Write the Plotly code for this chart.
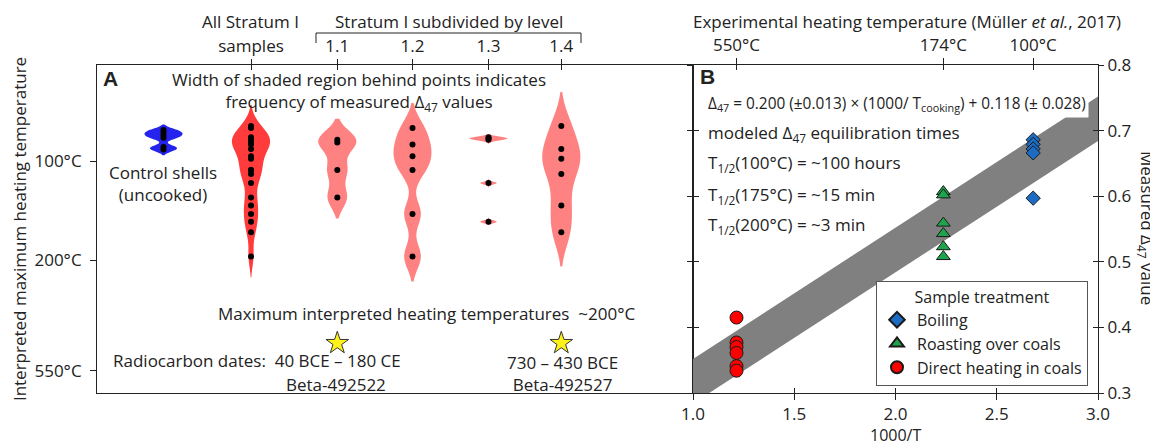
import plotly.graph_objects as go

# ---------------- data ----------------
# Panel A: measured Δ47 values of each sample group
group_names = ["Control shells", "All Stratum I", "1.1", "1.2", "1.3", "1.4"]
control_d47 = [0.701, 0.697, 0.693, 0.689, 0.675, 0.671]
level_11_d47 = [0.686, 0.682, 0.640, 0.598]
level_12_d47 = [0.704, 0.679, 0.661, 0.640, 0.573, 0.508]
level_13_d47 = [0.690, 0.688, 0.686, 0.620, 0.561]
level_14_d47 = [0.707, 0.672, 0.657, 0.634, 0.586, 0.545]
all_stratum_d47 = level_11_d47 + level_12_d47 + level_13_d47 + level_14_d47
group_values = [control_d47, all_stratum_d47, level_11_d47, level_12_d47,
                level_13_d47, level_14_d47]

temp_tick_d47 = [0.653, 0.502, 0.334]
temp_tick_labels = ["100°C", "200°C", "550°C"]
top_tick_groups = ["All Stratum I", "1.1", "1.2", "1.3", "1.4"]
top_tick_labels = ["samples", "1.1", "1.2", "1.3", "1.4"]
radiocarbon_groups = ["1.1", "1.4"]

# Panel B: experimental heating (Müller et al., 2017)
treatments = ["Boiling", "Roasting over coals", "Direct heating in coals"]
treatment_temp_c = [100, 174, 550]
boiling_d47 = [0.686, 0.679, 0.672, 0.666, 0.597]
roasting_d47 = [0.607, 0.602, 0.559, 0.543, 0.523, 0.508]
direct_d47 = [0.415, 0.377, 0.370, 0.361, 0.341, 0.334]
treatment_values = [boiling_d47, roasting_d47, direct_d47]

fit_slope = 0.200
fit_intercept = 0.118
band_half_width = 0.034

bottom_ticks = [1.0, 1.5, 2.0, 2.5, 3.0]
right_ticks = [0.3, 0.4, 0.5, 0.6, 0.7, 0.8]
top_temp_c = [550, 174, 100]
top_temp_labels = ["550°C", "174°C", "100°C"]

# ---------------- layout constants ----------------
W, H = 1158, 445            # window size
PAGE_OFF = 8                # default body margin of the html page
L, R, T, B = 97, 60, 65, 52  # plot-area edges in window pixels
PW, PH = W - L - R, H - T - B
A_RIGHT = 693
SPLIT = (A_RIGHT - L) / PW
A_RANGE = [0, A_RIGHT - L]
GROUP_X = {"Control shells": 66.5, "All Stratum I": 154, "1.1": 240.3,
           "1.2": 315.5, "1.3": 391.5, "1.4": 464.3}
VIOLIN_STYLE = {
    "Control shells": ("#2424EE", 0.0042),
    "All Stratum I": ("#FF3B3B", 0.016),
    "1.1": ("#FF8282", 0.016),
    "1.2": ("#FF8282", 0.019),
    "1.3": ("#FF8282", 0.0022),
    "1.4": ("#FF8282", 0.026),
}
VIOLIN_WIDTH = 38
STAR_Y = 0.376
FONT = "'Open Sans', Lato, sans-serif"
BOLD = "'Liberation Sans', Arial, sans-serif"
INK = "#222222"
FS = 17
MARKERS = {
    "Boiling": dict(symbol="diamond", size=11, color="#1C6CC4"),
    "Roasting over coals": dict(symbol="triangle-up", size=12, color="#1EA54B"),
    "Direct heating in coals": dict(symbol="circle", size=13, color="#FF0000"),
}


def px_x(px):
    return (px - L) / PW


def px_y(py):
    return (H - B - py) / PH


fig = go.Figure()

# ---------------- panel A: violins ----------------
for name, vals in zip(group_names, group_values):
    fill, bw = VIOLIN_STYLE[name]
    fig.add_trace(go.Violin(
        x=[GROUP_X[name]] * len(vals), y=vals, xaxis="x", yaxis="y",
        orientation="v", width=VIOLIN_WIDTH, scalemode="width",
        bandwidth=bw, spanmode="soft", fillcolor=fill,
        line=dict(color=fill, width=0), points="all", pointpos=0,
        jitter=0, marker=dict(color="black", size=6, line=dict(width=0)),
        box_visible=False, meanline_visible=False, showlegend=False,
        hoveron="points", name=name))

fig.add_trace(go.Scatter(
    x=[GROUP_X[g] for g in radiocarbon_groups],
    y=[STAR_Y] * len(radiocarbon_groups), xaxis="x", yaxis="y",
    mode="markers", showlegend=False, cliponaxis=False,
    marker=dict(symbol="star", size=17, color="#FFF21A",
                line=dict(color="#333", width=1))))

# ---------------- panel B ----------------
x_lo, x_hi = bottom_ticks[0], bottom_ticks[-1]
c_lo = fit_slope * x_lo + fit_intercept
c_hi = fit_slope * x_hi + fit_intercept
fig.add_trace(go.Scatter(
    x=[x_lo, x_hi, x_hi, x_lo, x_lo],
    y=[c_lo + band_half_width, c_hi + band_half_width,
       c_hi - band_half_width, c_lo - band_half_width,
       c_lo + band_half_width],
    xaxis="x2", yaxis="y2", mode="lines", fill="toself",
    fillcolor="#808080", line=dict(width=0), showlegend=False,
    hoverinfo="skip"))

for name, tc, vals in zip(treatments, treatment_temp_c, treatment_values):
    inv_t = 1000.0 / (tc + 273.15)
    m = MARKERS[name]
    fig.add_trace(go.Scatter(
        x=[inv_t] * len(vals), y=vals, xaxis="x2", yaxis="y2",
        mode="markers", name=name, cliponaxis=False,
        marker=dict(symbol=m["symbol"], size=m["size"], color=m["color"],
                    line=dict(color="#1a1a1a", width=1))))

# dummy traces to attach the overlay axes (crossing ticks)
for xa, ya in [("x3", "y2"), ("x4", "y2"), ("x5", "y2"), ("x2", "y3"),
               ("x2", "y4"), ("x2", "y5"), ("x6", "y")]:
    fig.add_trace(go.Scatter(x=[None], y=[None], xaxis=xa, yaxis=ya,
                             showlegend=False, hoverinfo="skip"))

axis_common = dict(showgrid=False, zeroline=False, linecolor=INK,
                   tickcolor=INK, linewidth=1, tickwidth=1, automargin=False,
                   tickfont=dict(family=FONT, size=FS, color=INK))

inv_top = [1000.0 / (t + 273.15) for t in top_temp_c]

layout_axes = dict(
    xaxis=dict(domain=[0, SPLIT], range=A_RANGE, side="top", anchor="y",
               tickvals=[GROUP_X[g] for g in top_tick_groups],
               ticktext=top_tick_labels, ticks="outside", ticklen=5,
               showline=True, mirror=True, **axis_common),
    xaxis6=dict(domain=[0, SPLIT], range=A_RANGE, side="top", anchor="y",
                overlaying="x", tickvals=[GROUP_X[g] for g in top_tick_groups],
                showticklabels=False, ticks="inside", ticklen=5,
                showline=False, **axis_common),
    yaxis=dict(domain=[0, 1], range=[0.3, 0.8], anchor="x",
               tickvals=temp_tick_d47, ticktext=temp_tick_labels,
               ticks="outside", ticklen=6, showline=True, mirror=True,
               ticklabelstandoff=5,
               title=dict(text="Interpreted maximum heating temperature",
                          font=dict(family=FONT, size=FS, color=INK),
                          standoff=10),
               **axis_common),
    xaxis2=dict(domain=[SPLIT, 1], range=[x_lo, x_hi], anchor="y2",
                tickvals=bottom_ticks,
                ticktext=[f"{v:.1f}" for v in bottom_ticks],
                ticks="outside", ticklen=6, showline=True,
                **axis_common),
    xaxis4=dict(domain=[SPLIT, 1], range=[x_lo, x_hi], anchor="y2",
                overlaying="x2", tickvals=bottom_ticks, showticklabels=False,
                ticks="inside", ticklen=5, showline=False, **axis_common),
    xaxis3=dict(domain=[SPLIT, 1], range=[x_lo, x_hi], anchor="y2",
                overlaying="x2", side="top", tickvals=inv_top,
                ticktext=top_temp_labels, ticks="outside", ticklen=6,
                showline=True, **axis_common),
    xaxis5=dict(domain=[SPLIT, 1], range=[x_lo, x_hi], anchor="y2",
                overlaying="x2", side="top", tickvals=inv_top,
                showticklabels=False, ticks="inside", ticklen=5,
                showline=False, **axis_common),
    yaxis2=dict(domain=[0, 1], range=[0.3, 0.8], anchor="x2", side="right",
                tickvals=right_ticks,
                ticktext=[f"{v:.1f}" for v in right_ticks],
                ticks="outside", ticklen=5, showline=True, **axis_common),
    yaxis4=dict(domain=[0, 1], range=[0.3, 0.8], anchor="x2", side="right",
                overlaying="y2", tickvals=right_ticks, showticklabels=False,
                ticks="inside", ticklen=5, showline=False, **axis_common),
    yaxis3=dict(domain=[0, 1], range=[0.3, 0.8], anchor="x2", side="left",
                overlaying="y2", tickvals=right_ticks, showticklabels=False,
                ticks="outside", ticklen=5, showline=True, **axis_common),
    yaxis5=dict(domain=[0, 1], range=[0.3, 0.8], anchor="x2", side="left",
                overlaying="y2", tickvals=right_ticks, showticklabels=False,
                ticks="inside", ticklen=6, showline=False, **axis_common),
)


def ann(text, x, y, size=FS, xanchor="center", family=FONT, **kw):
    d = dict(text=text, x=px_x(x), y=px_y(y), xref="paper", yref="paper",
             xanchor=xanchor, yanchor="middle", showarrow=False,
             font=dict(family=family, size=size, color=INK))
    d.update(kw)
    return d


annotations = [
    ann("<b>A</b>", 101, 78, size=21, xanchor="left", family=BOLD),
    ann("Width of shaded region behind points indicates<br>"
        "frequency of measured Δ<sub>47</sub> values", 359, 92),
    ann("Control shells<br>(uncooked)", 163, 183),
    ann("Maximum interpreted heating temperatures \u00a0~200°C", 426, 313),
    ann("Radiocarbon dates: \u00a040 BCE – 180 CE", 111, 360, xanchor="left"),
    ann("Beta-492522", 336, 384),
    ann("730 – 430 BCE<br>Beta-492527", 562, 373),
    ann("All Stratum I", 250, 21),
    ann("Stratum I subdivided by level", 449, 21),
    ann("<b>B</b>", 698, 76, size=21, xanchor="left", family=BOLD),
    ann("Δ<sub>47</sub> = 0.200 (±0.013) × (1000/ T<sub>cooking</sub>)"
        " + 0.118 (± 0.028)", 705, 104, size=15.4, xanchor="left",
        bgcolor="white", borderpad=2),
    ann("modeled Δ<sub>47</sub> equilibration times", 706, 134,
        xanchor="left"),
    ann("T<sub>1/2</sub>(100°C) = ~100 hours", 706, 163, xanchor="left"),
    ann("T<sub>1/2</sub>(175°C) = ~15 min", 706, 195, xanchor="left"),
    ann("T<sub>1/2</sub>(200°C) = ~3 min", 706, 225, xanchor="left"),
    ann("Experimental heating temperature (Müller <i>et al.</i>, 2017)",
        907, 21),
    ann("Measured Δ<sub>47</sub> value", 1147, 228, textangle=90),
    ann("1000/T", 895, 435, size=16),
]

shapes = [
    dict(type="path", xref="paper", yref="paper",
         path=(f"M {px_x(316)} {px_y(43)} L {px_x(316)} {px_y(33)} "
               f"L {px_x(581)} {px_y(33)} L {px_x(581)} {px_y(43)}"),
         line=dict(color=INK, width=1)),
]

fig.update_layout(
    width=W - PAGE_OFF, height=H - PAGE_OFF,
    margin=dict(l=L - PAGE_OFF, r=R, t=T - PAGE_OFF, b=B, autoexpand=False),
    paper_bgcolor="white", plot_bgcolor="white",
    violinmode="overlay",
    font=dict(family=FONT, size=16, color=INK),
    annotations=annotations, shapes=shapes,
    legend=dict(x=px_x(1088), xanchor="right", y=px_y(386), yanchor="bottom",
                bordercolor="#555", borderwidth=1, bgcolor="white",
                font=dict(family=FONT, size=16, color=INK),
                title=dict(text="Sample treatment", side="top center",
                           font=dict(family=FONT, size=16, color=INK)),
                tracegroupgap=0, itemsizing="constant"),
    **layout_axes,
)

fig.write_html("out.html")
